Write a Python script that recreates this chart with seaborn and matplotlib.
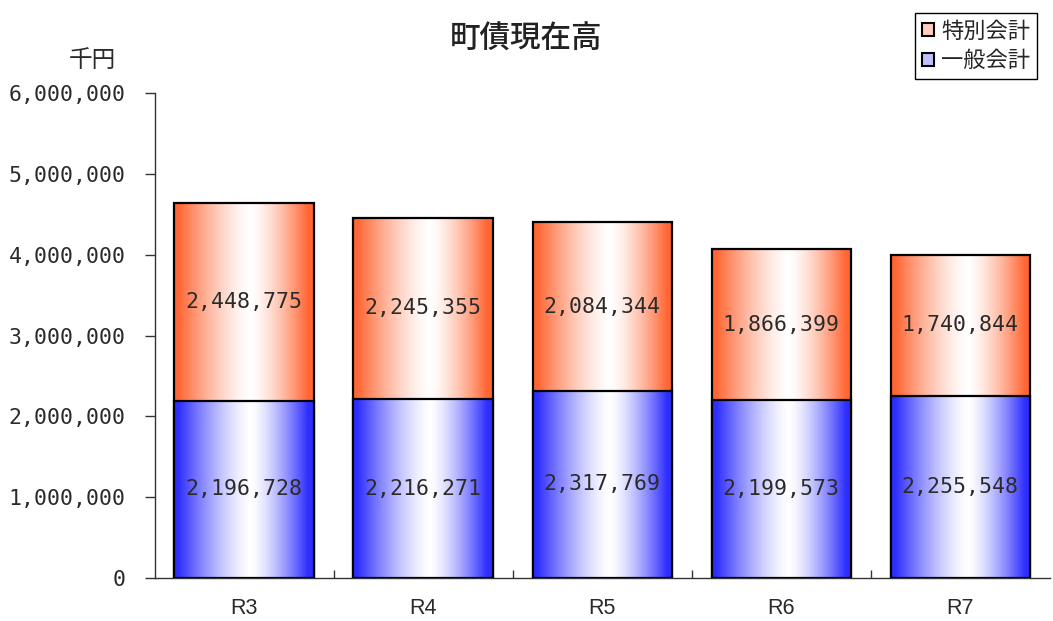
import numpy as np
import matplotlib
matplotlib.use("Agg")
import matplotlib.pyplot as plt
import seaborn as sns
from matplotlib.patches import Patch
from matplotlib.ticker import FuncFormatter, FixedLocator

years = ["R3", "R4", "R5", "R6", "R7"]
general = [2196728, 2216271, 2317769, 2199573, 2255548]
special = [2448775, 2245355, 2084344, 1866399, 1740844]
title = "町債現在高"
unit = "千円"
labels = ["特別会計", "一般会計"]

blue = (0.18, 0.18, 1.0)
orange = (1.0, 0.40, 0.20)

sns.set_style("ticks")
plt.rcParams['font.family'] = ['Noto Sans CJK JP', 'DejaVu Sans']

totals = [g + s for g, s in zip(general, special)]

fig = plt.figure(figsize=(10.53, 6.21), dpi=100)
ax = fig.add_axes([0.147, 0.069, 0.85, 0.781])

sns.barplot(x=years, y=totals, ax=ax, width=0.78, color=orange,
            edgecolor='black', linewidth=1.6, saturation=1)
sns.barplot(x=years, y=general, ax=ax, width=0.78, color=blue,
            edgecolor='black', linewidth=1.6, saturation=1)

def gradient(rgb):
    # light band a bit right of centre, fading to full colour at the edges
    t = np.linspace(0, 1, 256)
    peak = 0.55
    half = np.where(t < peak, peak - 0.03, 0.96 - peak)
    f = np.clip(np.abs(t - peak) / half, 0, 1)
    w = 1 - f ** 1.4
    base = np.array(rgb)
    img = base[None, :] * (1 - w[:, None]) + w[:, None]
    return img[None, :, :]

patches = list(ax.patches)
for i, p in enumerate(patches):
    x0, y0 = p.get_x(), p.get_y()
    x1, y1 = x0 + p.get_width(), y0 + p.get_height()
    rgb = orange if i < 5 else blue
    z = 2 if i < 5 else 4
    im = ax.imshow(gradient(rgb), extent=(x0, x1, y0, y1), aspect='auto',
                   interpolation='bilinear', zorder=z)
    im.set_clip_path(p)
    p.set_facecolor('none')
    p.set_zorder(z + 0.5)

ax.set_xlim(-0.5, 4.5)
ax.set_ylim(0, 6000000)

for i in range(len(years)):
    ax.text(i, general[i] / 2, f"{general[i]:,}", ha='center', va='center',
            fontsize=15.5, family='DejaVu Sans Mono', color='#2a2a2a', zorder=10)
    ax.text(i, general[i] + special[i] / 2, f"{special[i]:,}", ha='center', va='center',
            fontsize=15.5, family='DejaVu Sans Mono', color='#2a2a2a', zorder=10)

ax.yaxis.set_major_locator(FixedLocator(np.arange(0, 6000001, 1000000)))
ax.yaxis.set_major_formatter(FuncFormatter(lambda v, p: f"{int(v):,}"))
ax.tick_params(axis='y', direction='out', length=7, width=1, labelsize=15.5,
               pad=14, colors='#333333', labelcolor='#2a2a2a')
for lab in ax.get_yticklabels():
    lab.set_family('DejaVu Sans Mono')

ax.tick_params(axis='x', which='major', length=0, labelsize=15.5, pad=14,
               labelcolor='#2a2a2a')
for lab in ax.get_xticklabels():
    lab.set_family('Liberation Sans')
ax.xaxis.set_minor_locator(FixedLocator([0.5, 1.5, 2.5, 3.5]))
ax.tick_params(axis='x', which='minor', direction='in', length=6, width=1,
               colors='#333333')
ax.set_xlabel('')
ax.set_ylabel('')

sns.despine(ax=ax, top=True, right=True)
for s in ['left', 'bottom']:
    ax.spines[s].set_color('#333333')
    ax.spines[s].set_linewidth(1)

fig.text(0.50, 0.937, title, ha='center', va='center', fontsize=22,
         fontweight='medium', color='#222222')
fig.text(0.088, 0.903, unit, ha='center', va='center', fontsize=17, color='#2a2a2a')

handles = [Patch(facecolor=(1.0, 0.8, 0.75), edgecolor='black', linewidth=1.5),
           Patch(facecolor=(0.75, 0.75, 1.0), edgecolor='black', linewidth=1.5)]
leg = fig.legend(handles, labels, loc='upper right', bbox_to_anchor=(0.995, 0.997),
                 fontsize=16, frameon=True, fancybox=False, framealpha=1,
                 edgecolor='black', handlelength=0.55, handleheight=0.55,
                 handletextpad=0.3, borderpad=0.3, labelspacing=0.3)
leg.get_frame().set_linewidth(1)

fig.savefig("out.png", dpi=100)
